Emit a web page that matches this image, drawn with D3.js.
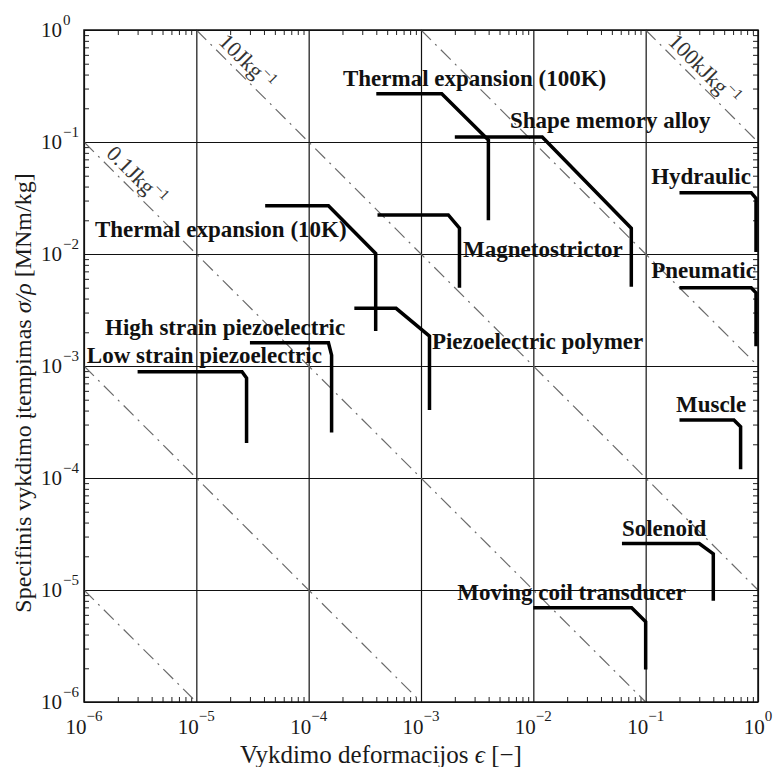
<!DOCTYPE html>
<html><head><meta charset="utf-8">
<script src="https://cdn.jsdelivr.net/npm/d3@7"></script>
<style>body{margin:0;background:#fff;} svg{display:block;}</style>
</head><body>
<svg id="chart" width="776" height="767"></svg>
<script>
// ---- data ----
const strainDecades = [1e-6, 1e-5, 1e-4, 1e-3, 1e-2, 1e-1, 1e0];
const stressDecades = [1e-6, 1e-5, 1e-4, 1e-3, 1e-2, 1e-1, 1e0];
const decadeExponents = ["−6", "−5", "−4", "−3", "−2", "−1", "0"];
// lines of constant specific work  (σ/ρ)·ε  in MNm/kg
const energyProducts = [1e-11, 1e-9, 1e-7, 1e-5, 1e-3, 1e-1];
const energyLabelProducts = [1e-7, 1e-5, 1e-1];
const energyLabelTexts = ["0.1Jkg", "10Jkg", "100kJkg"];

const actuatorNames = [
  "Thermal expansion (100K)", "Shape memory alloy", "Hydraulic",
  "Thermal expansion (10K)", "Magnetostrictor", "Pneumatic",
  "High strain piezoelectric", "Piezoelectric polymer", "Low strain piezoelectric",
  "Muscle", "Solenoid", "Moving coil transducer"
];
// each curve: [strain, specific stress] points
const thermal100 = [[4.0e-4, 0.27], [1.53e-3, 0.27], [3.98e-3, 0.104], [3.98e-3, 0.02]];
const shapeMemory = [[2.0e-3, 0.111], [1.2e-2, 0.111], [7.45e-2, 0.017], [7.45e-2, 5.1e-3]];
const hydraulic = [[0.2, 0.0353], [0.87, 0.0353], [0.96, 0.0314], [0.96, 0.0104]];
const thermal10 = [[4.1e-5, 0.027], [1.5e-4, 0.027], [3.95e-4, 0.0101], [3.95e-4, 2.05e-3]];
const magnetostrictor = [[4.1e-4, 0.0223], [1.75e-3, 0.0223], [2.2e-3, 0.017], [2.2e-3, 5.0e-3]];
const pneumatic = [[0.2, 5.0e-3], [0.87, 5.0e-3], [0.96, 4.5e-3], [0.96, 1.5e-3]];
const highPiezo = [[3.0e-5, 1.61e-3], [1.5e-4, 1.61e-3], [1.6e-4, 1.25e-3], [1.6e-4, 2.55e-4]];
const piezoPolymer = [[2.55e-4, 3.27e-3], [6.0e-4, 3.27e-3], [1.19e-3, 1.85e-3], [1.19e-3, 4.05e-4]];
const lowPiezo = [[3.0e-6, 8.9e-4], [2.55e-5, 8.9e-4], [2.8e-5, 7.8e-4], [2.8e-5, 2.05e-4]];
const muscle = [[0.2, 3.3e-4], [0.61, 3.3e-4], [0.7, 2.87e-4], [0.7, 1.2e-4]];
const solenoid = [[0.0615, 2.6e-5], [0.3, 2.6e-5], [0.4, 2.1e-5], [0.4, 8.0e-6]];
const movingCoil = [[0.01, 6.95e-6], [0.075, 6.95e-6], [0.1, 5.2e-6], [0.1, 1.95e-6]];
const actuatorCurves = [thermal100, shapeMemory, hydraulic, thermal10, magnetostrictor, pneumatic,
  highPiezo, piezoPolymer, lowPiezo, muscle, solenoid, movingCoil];
// label anchor (left end of baseline) in data coordinates [strain, stress]
const labelAnchors = [
  [2.02e-4, 0.316], [6.19e-3, 0.133], [0.112, 0.0422],
  [1.25e-6, 0.01418], [2.37e-3, 9.4e-3], [0.112, 6.1e-3],
  [1.54e-6, 1.89e-3], [1.25e-3, 1.42e-3], [1.06e-6, 1.06e-3],
  [0.186, 3.88e-4], [0.0615, 3.03e-5], [2.1e-3, 8.15e-6]
];

// ---- drawing ----
const svg = d3.select("#chart");
const L = 84, R = 758, T = 30, B = 702;
const x = d3.scaleLog().domain([1e-6, 1]).range([L, R]);
const y = d3.scaleLog().domain([1e-6, 1]).range([B, T]);
const serif = "'Liberation Serif','Times New Roman',serif";

const minorValues = [];
for (let e = -6; e < 0; e++) for (let k = 2; k <= 9; k++) minorValues.push(k * Math.pow(10, e));

// grid lines (decades)
svg.append("g").attr("transform", `translate(0,${B})`)
  .call(d3.axisBottom(x).tickValues(strainDecades).tickSize(-(B - T)).tickFormat(""))
  .call(g => g.select(".domain").remove())
  .call(g => g.selectAll("line").attr("stroke", "#111").attr("stroke-width", 1.2));
svg.append("g").attr("transform", `translate(${L},0)`)
  .call(d3.axisLeft(y).tickValues(stressDecades).tickSize(-(R - L)).tickFormat(""))
  .call(g => g.select(".domain").remove())
  .call(g => g.selectAll("line").attr("stroke", "#111").attr("stroke-width", 1.2));

// minor ticks on all four sides, pointing inward
const tk = 5;
[[d3.axisBottom(x), `translate(0,${B})`], [d3.axisTop(x), `translate(0,${T})`],
 [d3.axisLeft(y), `translate(${L},0)`], [d3.axisRight(y), `translate(${R},0)`]].forEach(([ax, tr]) => {
  svg.append("g").attr("transform", tr)
    .call(ax.tickValues(minorValues).tickSize(-tk).tickFormat(""))
    .call(g => g.select(".domain").remove())
    .call(g => g.selectAll("line").attr("stroke", "#222").attr("stroke-width", 1));
});

// constant energy lines
const line = d3.line().x(d => x(d[0])).y(d => y(d[1]));
energyProducts.forEach(p => {
  const x0 = Math.max(1e-6, p), x1 = Math.min(1, p / 1e-6);
  svg.append("path").attr("d", line([[x0, p / x0], [x1, p / x1]]))
    .attr("fill", "none").attr("stroke", "#6a6a6a").attr("stroke-width", 1.2)
    .attr("stroke-dasharray", "14,6,2,6");
});
// energy labels
energyLabelProducts.forEach((p, i) => {
  const x0 = Math.max(1e-6, p);
  const px = x(x0), py = y(p / x0);
  const s = Math.SQRT1_2, along = 24, off = 6;
  const tx = px + along * s + off * s, ty = py + along * s - off * s;
  const t = svg.append("text").attr("transform", `translate(${tx},${ty}) rotate(45)`)
    .attr("font-family", serif).attr("font-size", 22).attr("fill", "#333");
  t.append("tspan").text(energyLabelTexts[i]);
  t.append("tspan").attr("font-size", 15).attr("dy", -9).text("−1");
});

// frame
svg.append("rect").attr("x", L).attr("y", T).attr("width", R - L).attr("height", B - T)
  .attr("fill", "none").attr("stroke", "#111").attr("stroke-width", 1.5);

// actuator curves
actuatorCurves.forEach(c => {
  svg.append("path").attr("d", line(c)).attr("fill", "none")
    .attr("stroke", "#000").attr("stroke-width", 3.5).attr("stroke-linejoin", "miter");
});
// actuator labels
actuatorNames.forEach((n, i) => {
  svg.append("text").attr("x", x(labelAnchors[i][0])).attr("y", y(labelAnchors[i][1]))
    .attr("font-family", serif).attr("font-weight", "bold").attr("font-size", 23)
    .attr("fill", "#111").text(n);
});

// tick labels
stressDecades.forEach((d, i) => {
  svg.append("text").attr("x", 62).attr("y", y(d) + 7).attr("text-anchor", "end")
    .attr("font-family", serif).attr("font-size", 21).attr("fill", "#1a1a1a").text("10");
  svg.append("text").attr("x", 63).attr("y", y(d) - 5)
    .attr("font-family", serif).attr("font-size", 15).attr("fill", "#1a1a1a").text(decadeExponents[i]);
});
strainDecades.forEach((d, i) => {
  const t = svg.append("text").attr("x", x(d)).attr("y", 734).attr("text-anchor", "middle")
    .attr("font-family", serif).attr("font-size", 21).attr("fill", "#1a1a1a");
  t.append("tspan").text("10");
  t.append("tspan").attr("font-size", 15).attr("dy", -13).text(decadeExponents[i]);
});

// axis titles
const xt = svg.append("text").attr("x", 381).attr("y", 763).attr("text-anchor", "middle")
  .attr("font-family", serif).attr("font-size", 25).attr("fill", "#1a1a1a");
xt.append("tspan").text("Vykdimo deformacijos ");
xt.append("tspan").attr("font-style", "italic").text("ϵ");
xt.append("tspan").text(" [−]");

const yt = svg.append("text").attr("transform", "translate(31,393) rotate(-90)")
  .attr("text-anchor", "middle").attr("font-family", serif).attr("font-size", 24).attr("fill", "#1a1a1a");
yt.append("tspan").text("Specifinis vykdimo įtempimas ");
yt.append("tspan").attr("font-style", "italic").text("σ/ρ");
yt.append("tspan").text(" [MNm/kg]");
</script>
</body></html>
